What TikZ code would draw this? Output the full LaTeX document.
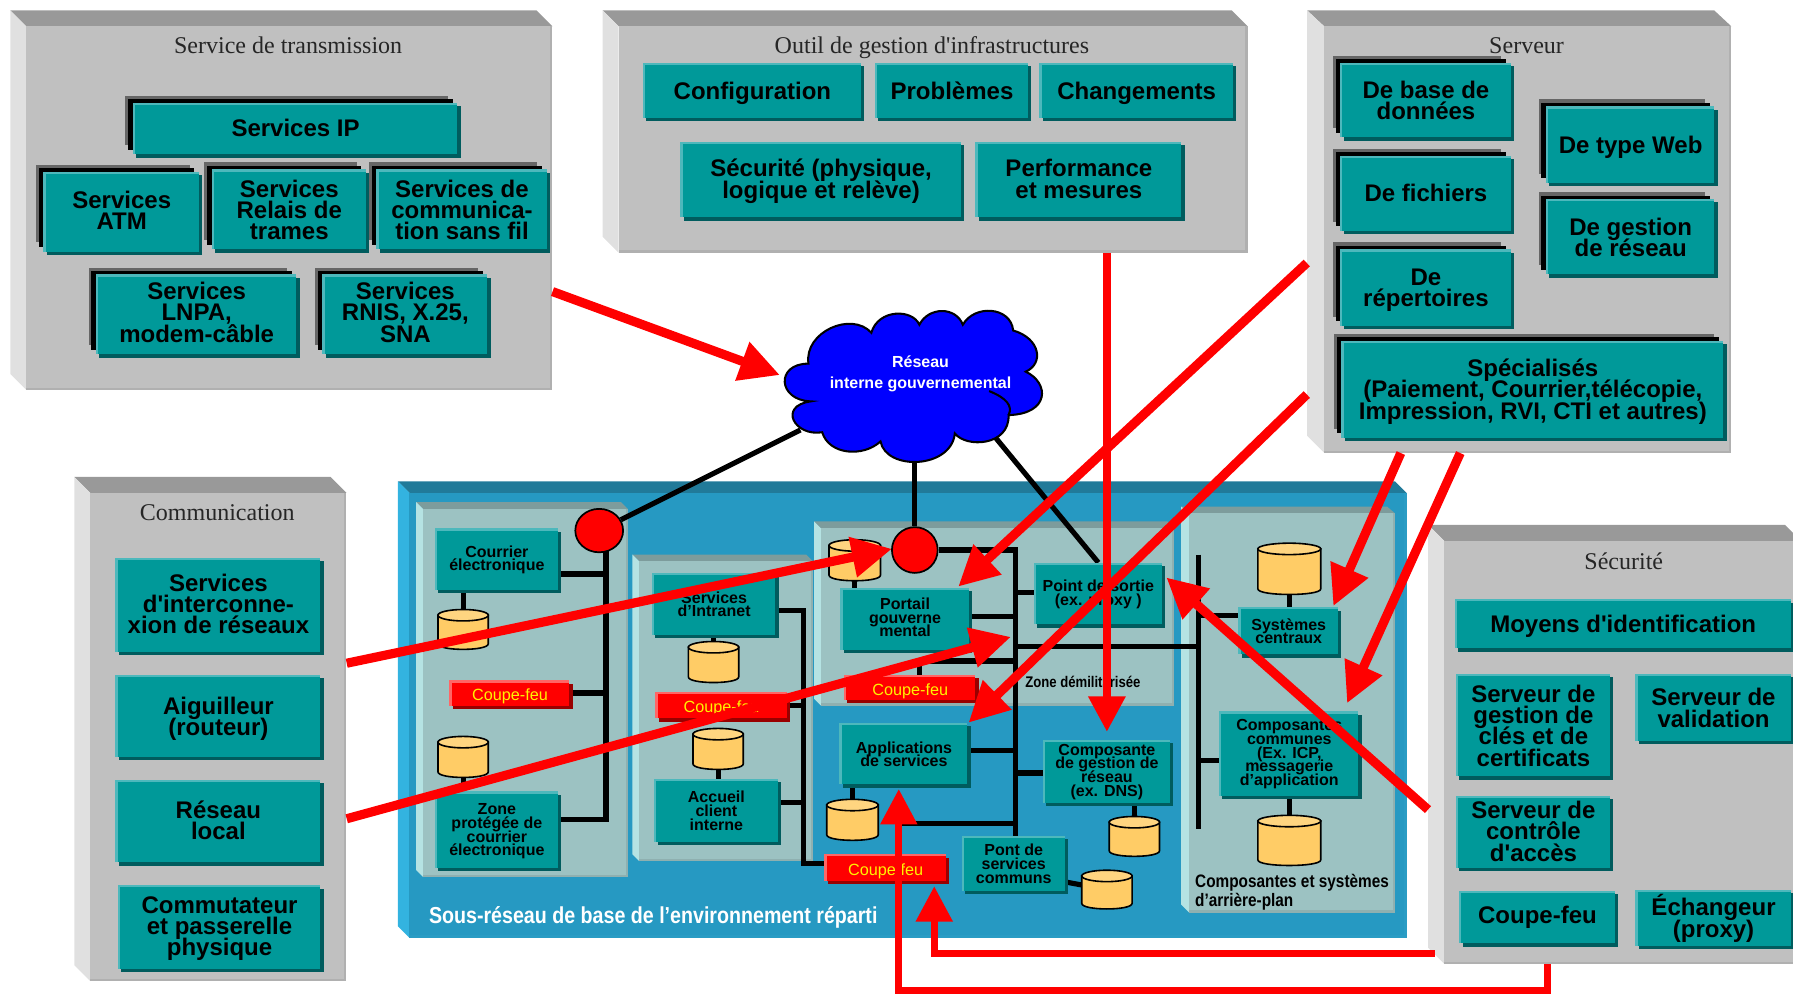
\documentclass[tikz,border=0pt]{standalone}
\usepackage{fontspec}
\setmainfont{Liberation Sans}
\newfontfamily\titlef{Liberation Serif}
\newfontfamily\narrowf[FakeStretch=0.85]{Liberation Sans}
\usetikzlibrary{arrows.meta}
\pgfdeclarelayer{panels}\pgfdeclarelayer{wires}\pgfdeclarelayer{top}
\pgfsetlayers{panels,wires,main,top}
\setlength{\normallineskiplimit}{-30pt}
\global\lineskiplimit=-30pt\relax
\definecolor{tealM}{HTML}{009999}\definecolor{tealL}{HTML}{4DB8BC}\definecolor{tealD}{HTML}{005C5E}
\definecolor{redL}{HTML}{FF6666}\definecolor{redD}{HTML}{990000}
\definecolor{greyF}{HTML}{C0C0C0}\definecolor{greyL}{HTML}{E0E0E0}\definecolor{greyT}{HTML}{999999}\definecolor{greyE}{HTML}{B0B0B0}
\definecolor{blueF}{HTML}{2699C2}\definecolor{blueL}{HTML}{33B3E0}\definecolor{blueT}{HTML}{217A99}\definecolor{blueE}{HTML}{2A9CC4}
\definecolor{inF}{HTML}{9CC2C2}\definecolor{inL}{HTML}{B5E3E3}\definecolor{inT}{HTML}{7D9C9C}\definecolor{inE}{HTML}{8FB0B0}
\definecolor{dbF}{HTML}{FFCC66}\definecolor{dbT}{HTML}{FFD580}
\tikzset{
 big/.style={font=\fontsize{21}{18.6}\selectfont\bfseries,align=center,text=black},
 small/.style={font=\fontsize{14}{12}\selectfont\bfseries,align=center,text=black},
 one/.style={text height=15pt,text depth=0pt},
 cf/.style={font=\fontsize{14.2}{14}\selectfont,text=yellow,text height=10pt,text depth=0pt,yshift=-1.5pt},
 titletext/.style={font=\titlef\fontsize{21}{22}\selectfont,text=black!85,text height=14pt,text depth=0pt,yshift=-1pt},
 wire/.style={draw=black,line width=4.5pt},
 redarrow/.style={draw=red,line width=8pt,-{Triangle[length=35pt,width=34pt,fill=red]}},
 redelbow/.style={draw=red,line width=6.2pt,-{Triangle[length=31pt,width=31pt,fill=red]}},
 circ/.style={circle,draw=black,line width=1.5pt,fill=red,inner sep=0pt}
}
% panel: name, outer left, outer top, front left, front top, right, bottom, colour prefix
\newcommand{\panel}[8]{%
 \pgfmathsetmacro\pd{#4-#2}%
 \fill[#8T] (#2,#3) -- (#6-\pd,#3) -- (#6,#5) -- (#4,#5) -- cycle;
 \fill[#8L] (#2,#3) -- (#4,#5) -- (#4,#7) -- (#2,#7-\pd) -- cycle;
 \fill[#8E] (#4,#5) rectangle (#6,#7);
 \fill[#8F] (#4,#5) rectangle (#6-2,#7-2);
 \pgfmathsetmacro\rcx{(#4+#6)/2}\pgfmathsetmacro\rcy{(#5+#7)/2}%
 \pgfmathsetmacro\rw{#6-#4}\pgfmathsetmacro\rh{#7-#5}%
 \node[inner sep=0pt,minimum width=\rw pt,minimum height=\rh pt] (#1) at (\rcx,\rcy) {};
}
\newcommand{\genbox}[7]{%
 \pgfmathsetmacro\rcx{(#2+#4-1)/2}\pgfmathsetmacro\rcy{(#3+#5-1)/2}%
 \pgfmathsetmacro\rw{#4-#2-5}\pgfmathsetmacro\rh{#5-#3-5}%
 \fill[\gD] (#2+3,#3+3) rectangle (#4+1,#5+1);
 \fill[\gL] (#2,#3) rectangle (#4-2,#5-2);
 \fill[\gM] (#2+2,#3+2) rectangle (#4-2,#5-2);
 \node[inner sep=0pt,minimum width=\rw pt,minimum height=\rh pt,#6] (#1) at (\rcx,\rcy) {#7};
}
\newcommand{\tealbox}{\def\gL{tealL}\def\gD{tealD}\def\gM{tealM}\genbox}
\newcommand{\redbox}{\def\gL{redL}\def\gD{redD}\def\gM{red}\genbox}
\newcommand{\sdbox}[7]{%
 \fill[black!60] (#2-6.5,#3-6) rectangle (#4-10,#5-10);
 \fill[black] (#2-4,#3-3) rectangle (#4-6,#5-6);
 \tealbox{#1}{#2}{#3}{#4}{#5}{#6}{#7}%
}
\newcommand{\dbcyl}[5]{%
 \pgfmathsetmacro\rcx{(#2+#4)/2}\pgfmathsetmacro\rcy{(#3+#5)/2}%
 \pgfmathsetmacro\rrx{(#4-#2)/2}%
 \draw[draw=black,line width=1.4pt,fill=dbF] (#2,#3+5) -- (#2,#5-5) .. controls (#2,#5+1.5) and (#4,#5+1.5) .. (#4,#5-5) -- (#4,#3+5) -- cycle;
 \draw[draw=black,line width=1.4pt,fill=dbT] (\rcx,#3+5) ellipse [x radius=\rrx,y radius=5];
 \coordinate (#1) at (\rcx,\rcy);
}
\begin{document}
\begin{tikzpicture}[x=1pt,y=-1pt]
\useasboundingbox (0,0) rectangle (1568,870.15);
\begin{pgfonlayer}{panels}
\panel{pTrans}{9}{9}{23}{23}{483}{341}{grey}
\panel{pOutil}{527}{9}{541}{23}{1091}{221}{grey}
\panel{pServ}{1143}{9}{1158}{23}{1514}{396}{grey}
\panel{pComm}{65}{417}{79}{431}{303}{858}{grey}
\panel{pSecu}{1249}{459}{1263}{473}{1575}{843}{grey}
\panel{pBase}{348}{421}{358}{431}{1230}{820}{blue}
\panel{pA}{364}{439}{370}{445}{549}{767}{in}
\panel{pB}{553}{485}{559}{491}{711}{753}{in}
\panel{pC}{712}{456}{718}{462}{1027}{617}{in}
\panel{pD}{1033}{443}{1040}{449}{1220}{798}{in}
\end{pgfonlayer}
% titles
\node[titletext] (tTrans) at (252,39) {Service de transmission};
\node[titletext] (tOutil) at (815,39) {Outil de gestion d\textquotesingle infrastructures};
\node[titletext] (tServ) at (1335,39) {Serveur};
\node[titletext] (tComm) at (190,447) {Communication};
\node[titletext] (tSecu) at (1420,490) {Sécurité};
% Service de transmission
\sdbox{sIP}{116}{90}{402}{137}{big,one,yshift=1pt}{Services IP}
\sdbox{sATM}{38}{150}{176}{222}{big,yshift=1.5pt}{Services\\ATM}
\sdbox{sRelais}{185}{148}{322}{220}{big}{Services\\Relais de\\trames}
\sdbox{sSansFil}{329}{148}{480}{220}{big}{Services de\\communica-\\tion sans fil}
\sdbox{sLNPA}{84}{240}{261}{312}{big,yshift=2.5pt}{Services\\LNPA,\\modem-câble}
\sdbox{sRNIS}{282}{240}{428}{312}{big,yshift=2.5pt}{Services\\RNIS, X.25,\\SNA}
% Outil
\tealbox{oConf}{562}{55}{755}{105}{big,one}{Configuration}
\tealbox{oProb}{765}{55}{901}{105}{big,one}{Problèmes}
\tealbox{oChan}{909}{55}{1080}{105}{big,one}{Changements}
\tealbox{oSecu}{595}{124}{842}{192}{big,yshift=-1pt}{Sécurité (physique,\\logique et relève)}
\tealbox{oPerf}{853}{124}{1035}{192}{big,yshift=1pt}{Performance\\et mesures}
% Serveur
\sdbox{vBase}{1172}{55}{1323}{122}{big}{De base de\\données}
\sdbox{vFich}{1172}{136}{1323}{204}{big,one,yshift=1pt}{De fichiers}
\sdbox{vRep}{1172}{218}{1323}{287}{big,yshift=-2pt}{De\\répertoires}
\sdbox{vWeb}{1352}{93}{1501}{162}{big,one}{De type Web}
\sdbox{vGest}{1352}{174}{1501}{242}{big}{De gestion\\de réseau}
\sdbox{vSpec}{1173}{298}{1509}{385}{big,yshift=-1.5pt}{Spécialisés\\(Paiement, Courrier,télécopie,\\Impression, RVI, CTI et autres)}
% Communication
\tealbox{cInter}{101}{488}{282}{572}{big,yshift=1.5pt}{Services\\d\textquotesingle interconne-\\xion de réseaux}
\tealbox{cAig}{101}{590}{282}{664}{big,yshift=-2pt}{Aiguilleur\\(routeur)}
\tealbox{cLocal}{101}{682}{282}{756}{big,yshift=1pt}{Réseau\\local}
\tealbox{cComm}{103}{774}{282}{849}{big,yshift=-1pt}{Commutateur\\et passerelle\\physique}
% Sécurité
\tealbox{eMoy}{1272}{524}{1568}{569}{big,one}{Moyens d\textquotesingle identification}
\tealbox{eCles}{1273}{589}{1410}{681}{big}{Serveur de\\gestion de\\clés et de\\certificats}
\tealbox{eVal}{1430}{589}{1568}{650}{big}{Serveur de\\validation}
\tealbox{eAcc}{1273}{696}{1410}{761}{big,yshift=1pt}{Serveur de\\contrôle\\d\textquotesingle accès}
\tealbox{eCf}{1276}{779}{1414}{827}{big,one,yshift=2pt}{Coupe-feu}
\tealbox{eProxy}{1430}{778}{1568}{829}{big}{Échangeur\\(proxy)}
% zone A
\tealbox{courrier}{380}{462}{490}{518}{small}{Courrier\\électronique}
\dbcyl{dbA1}{383}{533}{427}{568}
\redbox{cfA}{393}{595}{500}{619}{cf}{Coupe-feu}
\dbcyl{dbA2}{383}{644}{427}{680}
\tealbox{zoneC}{380}{692}{490}{761}{small,yshift=-1pt}{Zone\\protégée de\\courrier\\électronique}
\node[circ,minimum width=38pt,xscale=1.1] (circA) at (524,464) {};
% zone B
\tealbox{intra}{570}{501}{680}{557}{small}{Services\\d’Intranet}
\dbcyl{dbB1}{602}{561}{646}{597}
\redbox{cfB}{573}{605}{690}{630}{cf}{Coupe-feu}
\dbcyl{dbB2}{606}{637}{650}{673}
\tealbox{accueil}{572}{681}{682}{738}{small}{Accueil\\client\\interne}
\redbox{cfBas}{721}{747}{829}{772}{cf}{Coupe feu}
% zone C
\dbcyl{dbC1}{725}{472}{770}{508}
\node[circ,minimum width=40pt] (circC) at (800,481) {};
\tealbox{sortie}{904}{492}{1018}{548}{small}{Point de sortie\\(ex. proxy )}
\tealbox{portail}{735}{514}{849}{570}{small,yshift=1.5pt}{Portail\\gouverne\\mental}
\redbox{cfC}{738}{590}{855}{614}{cf}{Coupe-feu}
\node[font=\narrowf\fontsize{13.5}{14}\selectfont\bfseries] (zdm) at (947,596) {Zone démilitarisée};
\tealbox{applis}{734}{632}{848}{688}{small}{Applications\\de services}
\dbcyl{dbC2}{723}{699}{768}{735}
\tealbox{gestion}{912}{647}{1025}{704}{small}{Composante\\de gestion de\\réseau\\(ex. DNS)}
\dbcyl{dbC3}{970}{714}{1014}{749}
\tealbox{pont}{841}{731}{933}{781}{small}{Pont de\\services\\communs}
\dbcyl{dbC4}{946}{761}{990}{795}
% zone D
\dbcyl{dbD1}{1100}{475}{1155}{520}
\tealbox{sysc}{1083}{531}{1172}{574}{small}{Systèmes\\centraux}
\tealbox{compc}{1066}{622}{1190}{698}{small}{Composantes\\communes\\(Ex. ICP,\\messagerie\\d’application}
\dbcyl{dbD2}{1100}{713}{1155}{757}
\node[font=\narrowf\fontsize{15.8}{17}\selectfont\bfseries,align=left,anchor=north west,inner sep=0pt] (lblD) at (1045,764) {Composantes et systèmes\\d’arrière-plan};
\node[font=\narrowf\fontsize{20.2}{22}\selectfont\bfseries,text=white,anchor=west,inner sep=0pt] (lblBase) at (375,802) {Sous-réseau de base de l’environnement réparti};
% cloud
\filldraw[draw=black,line width=1.8pt,fill=blue] (707,318)
 .. controls (703,290) and (745,272) .. (762,291)
 .. controls (768,270) and (798,270) .. (804,284)
 .. controls (812,268) and (836,268) .. (842,284)
 .. controls (852,266) and (884,268) .. (886,289)
 .. controls (910,296) and (913,318) .. (897,325)
 .. controls (918,335) and (918,362) .. (882,363)
 .. controls (883,390) and (845,392) .. (835,379)
 .. controls (832,410) and (775,412) .. (770,386)
 .. controls (755,400) and (725,398) .. (719,378)
 .. controls (695,382) and (680,355) .. (709,351)
 .. controls (680,350) and (678,318) .. (707,318) -- cycle;
\draw[draw=black,line width=1.8pt] (865,342) .. controls (880,348) and (886,355) .. (882,363);
\node[font=\fontsize{14}{18}\selectfont\bfseries,text=white,align=center] (cloud) at (805,327) {Réseau\\interne gouvernemental};
\coordinate (cloudSW) at (700,376);
\coordinate (cloudS) at (800,400);
\coordinate (cloudSE) at (870,382);
% bus coordinates
\coordinate (busAt) at (530,480);
\coordinate (busAb) at (530,717);
\coordinate (busBt) at (703,534);
\coordinate (busBb) at (703,755);
\coordinate (busCt) at (888,481);
\coordinate (busCb) at (888,759);
\coordinate (busDt) at (1048,485);
\coordinate (busDb) at (1048,725);
\begin{pgfonlayer}{wires}
\draw[wire] (circA) -- (cloudSW);
\draw[wire] (circC) -- (cloudS);
\draw[wire] (sortie.north |- 0,492) -- (cloudSE);
\draw[wire] (busAt) -- (busAb) -- (zoneC.east |- busAb);
\draw[wire] (courrier.east |- 0,502) -- (busAt |- 0,502);
\draw[wire] (cfA.east |- 0,606) -- ([xshift=-3pt]busAt |- 0,606);
\draw[wire] (courrier.south -| dbA1) -- (dbA1);
\draw[wire] (zoneC.north -| dbA2) -- (dbA2);
\draw[wire] (intra.east |- busBt) -- (busBt) -- (busBb) -- (cfBas.west |- busBb);
\draw[wire] (cfB.east |- 0,617) -- (busBt |- 0,617);
\draw[wire] (accueil.east |- 0,702) -- (busBt |- 0,702);
\draw[wire] (intra.south -| dbB1) -- (dbB1);
\draw[wire] (accueil.north -| dbB2) -- (dbB2);
\draw[wire] (circC) -- (busCt) -- (busCb);
\draw[wire] (portail.north -| dbC1) -- (dbC1);
\draw[wire] (sortie.west |- 0,518) -- (busCt |- 0,518);
\draw[wire] (portail.east |- 0,539) -- (busCt |- 0,539);
\draw[wire] (804,590) |- (busCt |- 0,578);
\draw[wire] (applis.east |- 0,656) -- (busCt |- 0,656);
\draw[wire] (applis.south -| dbC2) -- (dbC2);
\draw[wire] (dbC2 -| 786,0) |- (busCt |- 0,720);
\draw[wire] (gestion.west |- 0,676) -- (busCt |- 0,676);
\draw[wire] (gestion.south -| dbC3) -- (dbC3);
\draw[wire] (pont.east |- 0,771) -- (dbC4);
\draw[wire] (busCt |- 0,565) -- (busDt |- 0,565);
\draw[line width=5pt] (busDt) -- (busDb);
\draw[wire] (busDt |- 0,538) -- (sysc.west |- 0,538);
\draw[wire] (busDt |- 0,665) -- (compc.west |- 0,665);
\draw[wire] (sysc.north -| dbD1) -- (dbD1);
\draw[wire] (compc.south -| dbD2) -- (dbD2);
\end{pgfonlayer}
% arrows
\coordinate (tipCloud) at (682,328);
\coordinate (tipCirc) at (780,480);
\coordinate (tipPortail) at (838,513);
\coordinate (tipApplis) at (847,632);
\coordinate (tipBus) at (884,557);
\coordinate (tipGestion) at (968,640);
\coordinate (tipSys) at (1166,530);
\coordinate (tipComp) at (1178,615);
\coordinate (tipSortie) at (1020,505);
\coordinate (tipCfBas) at (817,775);
\coordinate (tipApplisBas) at (786,690);
\coordinate (c1) at (817,834);
\coordinate (c2) at (786,866);
\coordinate (c3) at (1353,866);
\begin{pgfonlayer}{top}
\draw[redarrow] (pTrans.east |- 0,255) -- (tipCloud);
\draw[redarrow] (pComm.east |- 0,580) -- (tipCirc);
\draw[redarrow] (pComm.east |- 0,716) -- (tipBus);
\draw[redarrow] (pServ.west |- 0,230) ++(-15,0) -- (tipPortail);
\draw[redarrow] (pServ.west |- 0,345) ++(-15,0) -- (tipApplis);
\draw[redelbow,line width=7pt] (pOutil.south -| tipGestion) -- (tipGestion);
\draw[redarrow] (pServ.south -| 1225,0) -- (tipSys);
\draw[redarrow] (pServ.south -| 1277,0) -- (tipComp);
\draw[redarrow] (pSecu.west |- 0,708) ++(-14,0) -- (tipSortie);
\draw[redelbow] (pSecu.west |- 0,834) ++(-8,0) -- (c1) -- (tipCfBas);
\draw[redelbow] (pSecu.south -| c3) -- (c3) -- (c2) -- (tipApplisBas);
\end{pgfonlayer}
\end{tikzpicture}
\end{document}
